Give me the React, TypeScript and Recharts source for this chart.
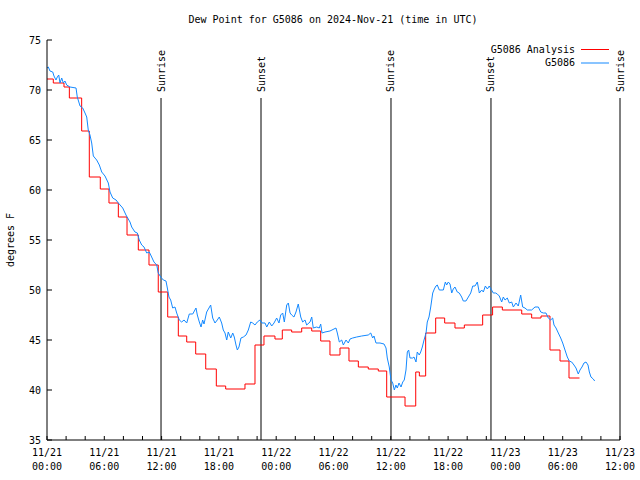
import { LineChart, Line, XAxis, YAxis, ReferenceLine, Legend } from "recharts";

const FONT = "'DejaVu Sans Mono', 'Liberation Mono', monospace";

// hours since 11/21 00:00 UTC
const minorHours = [0, 2, 4, 6, 8, 10, 12, 14, 16, 18, 20, 22, 24, 26, 28, 30, 32, 34, 36, 38, 40, 42, 44, 46, 48, 50, 52, 54, 56, 58, 60];
const majorHours = [0, 6, 12, 18, 24, 30, 36, 42, 48, 54, 60];
const dayLabels = ["11/21", "11/21", "11/21", "11/21", "11/22", "11/22", "11/22", "11/22", "11/23", "11/23", "11/23"];
const timeLabels = ["00:00", "06:00", "12:00", "18:00", "00:00", "06:00", "12:00", "18:00", "00:00", "06:00", "12:00"];
const valueTicks = [35, 40, 45, 50, 55, 60, 65, 70, 75];

const sunHours = [11.94, 22.41, 36.02, 46.49, 60];
const sunNames = ["Sunrise", "Sunset", "Sunrise", "Sunset", "Sunrise"];

// G5086 Analysis (hourly steps)
const analysisHours = [
  0, 0.66, 1.78, 2.34, 3.63, 4.43, 5.58, 6.49, 7.47, 8.38,
  9.56, 10.68, 11.65, 12.64, 13.75, 14.63, 15.57, 16.62, 17.73, 18.71,
  20.73, 21.78, 22.72, 23.87, 24.64, 25.62, 26.67, 27.72, 28.66, 29.63,
  30.68, 31.62, 32.6, 33.64, 34.69, 35.57, 37.49, 38.61, 38.99, 39.65,
  40.7, 41.64, 42.72, 43.7, 45.62, 46.66, 47.68, 49.71, 50.75, 51.73,
  52.67, 53.72, 54.66, 55.76,
];
const analysisValues = [
  71.1, 70.7, 70.3, 69.2, 65.9, 61.3, 60.1, 58.7, 57.3, 55.5,
  54.0, 52.5, 49.8, 47.3, 45.4, 44.8, 43.6, 42.1, 40.4, 40.1,
  40.6, 44.5, 45.4, 45.1, 46.0, 45.8, 46.2, 45.9, 44.9, 43.5,
  44.2, 42.9, 42.3, 42.1, 41.9, 39.3, 38.4, 41.8, 41.4, 45.7,
  47.2, 46.7, 46.2, 46.5, 47.5, 48.3, 48.0, 47.6, 47.2, 47.4,
  44.0, 42.9, 41.2, 41.2,
];

// G5086 station observations
const stationHours = [
  0, 0.14, 0.31, 0.6, 0.73, 0.94, 1.08, 1.23, 1.36, 1.54,
  1.71, 1.88, 2.06, 2.41, 3.04, 3.17, 3.46, 3.74, 3.98, 4.16,
  4.32, 4.5, 4.68, 4.85, 5.2, 5.48, 5.73, 6.07, 6.42, 6.6,
  6.88, 7.23, 7.47, 7.93, 8.27, 8.69, 8.87, 9.21, 9.46, 9.66,
  9.92, 10.16, 10.44, 10.71, 10.96, 11.2, 11.49, 11.65, 11.91, 12.18,
  12.46, 12.6, 12.77, 12.95, 13.16, 13.4, 13.58, 13.85, 14.1, 14.35,
  14.63, 14.9, 15.26, 15.6, 15.74, 15.95, 16.13, 16.3, 16.44, 16.72,
  16.96, 17.14, 17.35, 17.59, 17.83, 18.04, 18.29, 18.46, 18.64, 18.82,
  18.98, 19.24, 19.45, 19.61, 19.79, 19.93, 20.1, 20.31, 20.56, 20.84,
  21.08, 21.33, 21.54, 21.78, 22.02, 22.3, 22.51, 22.83, 23.01, 23.28,
  23.53, 23.77, 24.05, 24.29, 24.47, 24.68, 24.85, 25.1, 25.27, 25.45,
  25.62, 25.86, 26.07, 26.31, 26.57, 26.77, 27.02, 27.19, 27.54, 27.72,
  27.88, 28.24, 28.51, 28.66, 28.8, 29.11, 29.63, 30.26, 30.4, 30.61,
  30.86, 31.03, 31.31, 31.55, 31.73, 32.01, 32.43, 32.95, 33.64, 33.9,
  34.1, 34.24, 34.45, 34.87, 35.29, 35.5, 35.63, 35.84, 36.02, 36.2,
  36.37, 36.54, 36.68, 36.86, 37.07, 37.25, 37.41, 37.59, 37.73, 37.87,
  38.01, 38.29, 38.43, 38.64, 38.77, 38.98, 39.13, 39.3, 39.48, 39.69,
  39.82, 40.0, 40.18, 40.39, 40.56, 40.73, 40.87, 41.08, 41.5, 41.71,
  41.85, 42.02, 42.2, 42.38, 42.54, 42.72, 42.96, 43.17, 43.42, 43.59,
  43.87, 44.12, 44.37, 44.58, 44.82, 45.06, 45.27, 45.52, 45.69, 45.9,
  46.11, 46.31, 46.49, 46.73, 46.98, 47.15, 47.36, 47.61, 47.78, 47.96,
  48.2, 48.41, 48.66, 48.83, 49.11, 49.35, 49.6, 49.81, 50.05, 50.29,
  50.75, 51.1, 51.45, 51.7, 51.97, 52.25, 52.49, 52.74, 52.95, 53.09,
  53.3, 53.54, 53.79, 54.0, 54.24, 54.48, 54.69, 54.94, 55.18, 55.39,
  55.63, 55.81, 56.02, 56.23, 56.44, 56.65, 56.79, 56.96, 57.2, 57.35,
];
const stationValues = [
  72.2, 72.3, 71.9, 71.8, 71.4, 71.0, 71.3, 71.5, 70.7, 71.2,
  70.7, 70.9, 70.5, 70.3, 70.2, 69.3, 68.4, 68.2, 67.7, 67.3,
  66.0, 65.5, 64.7, 63.4, 63.0, 62.5, 61.8, 61.4, 60.7, 59.8,
  59.2, 59.0, 58.7, 58.2, 57.5, 56.8, 56.3, 55.8, 55.7, 55.0,
  54.5, 54.3, 53.7, 53.8, 53.3, 52.8, 52.5, 51.7, 51.3, 51.0,
  50.9, 50.2, 49.3, 49.0, 48.2, 48.3, 47.7, 47.0, 46.8, 47.0,
  46.7, 47.6, 47.6, 48.2, 47.5, 46.8, 46.3, 47.0, 46.6, 47.8,
  48.2, 48.5, 47.2, 46.7, 47.0, 47.3, 46.7, 46.0, 45.7, 45.0,
  45.8, 45.2, 45.7, 45.3, 44.5, 44.0, 44.3, 45.2, 45.3, 45.5,
  46.0, 46.8, 46.7, 46.5, 46.8, 47.0, 46.7, 46.7, 46.3, 46.8,
  46.4, 46.7, 47.2, 46.7, 47.5, 47.7, 46.8, 48.5, 48.7, 47.7,
  47.5, 47.3, 47.8, 48.6, 47.3, 46.8, 47.0, 46.5, 46.8, 47.3,
  46.2, 46.3, 46.2, 46.6, 45.7, 45.8, 45.9, 46.2, 45.7, 44.8,
  45.0, 44.5, 45.0, 44.7, 45.1, 45.2, 45.3, 45.4, 45.5, 45.7,
  45.2, 45.4, 44.7, 44.7, 44.6, 44.2, 43.2, 42.3, 41.0, 40.7,
  40.0, 40.5, 40.2, 40.7, 40.3, 40.8, 41.0, 42.0, 43.8, 44.0,
  43.2, 43.2, 43.3, 42.8, 43.8, 43.5, 43.8, 44.3, 45.0, 45.7,
  46.8, 47.3, 48.3, 49.7, 50.1, 50.4, 50.5, 50.0, 50.0, 50.8,
  50.5, 50.8, 50.6, 49.7, 50.1, 50.3, 49.8, 49.7, 49.3, 48.9,
  48.9, 49.3, 49.7, 50.4, 50.4, 50.8, 49.7, 50.0, 49.8, 50.4,
  50.1, 50.4, 50.1, 49.7, 49.7, 49.6, 49.4, 48.8, 49.3, 49.0,
  49.2, 48.7, 48.8, 48.3, 48.7, 48.4, 49.5, 48.3, 48.2, 48.0,
  48.0, 48.3, 48.3, 47.8, 47.7, 47.7, 47.2, 47.0, 47.2, 46.5,
  46.2, 45.7, 45.2, 44.7, 44.0, 43.3, 42.9, 42.8, 42.5, 42.2,
  41.6, 42.0, 42.3, 42.7, 42.8, 42.5, 41.8, 41.3, 41.1, 40.9,
];

const analysisData = analysisHours.map((h, i) => ({ h, v: analysisValues[i] }));
const stationData = stationHours.map((h, i) => ({ h, v: stationValues[i] }));

const RED = "#ff0000";
const BLUE = "#1489ff";

const BottomTick = ({ x, y, payload }: any) => {
  const i = majorHours.indexOf(payload.value);
  return (
    <g>
      <line x1={x} x2={x} y1={y} y2={y - 4} stroke="#000" />
      {i >= 0 && (
        <text x={x} y={y + 16} textAnchor="middle" fontSize={10} fontFamily={FONT} fill="#000">
          <tspan x={x}>{dayLabels[i]}</tspan>
          <tspan x={x} dy={14}>{timeLabels[i]}</tspan>
        </text>
      )}
    </g>
  );
};

const TopTick = ({ x, y }: any) => <line x1={x} x2={x} y1={y} y2={y + 4} stroke="#000" />;

const LeftTick = ({ x, y, payload }: any) => (
  <g>
    <line x1={x} x2={x + 5} y1={y} y2={y} stroke="#000" />
    <text x={x - 6} y={y + 3.5} textAnchor="end" fontSize={10} fontFamily={FONT} fill="#000">
      {payload.value}
    </text>
  </g>
);

const RightTick = ({ x, y }: any) => <line x1={x} x2={x - 5} y1={y} y2={y} stroke="#000" />;

const SunLabel = ({ viewBox, text }: any) => {
  const cx = viewBox.x;
  const cy = viewBox.y - 6;
  return (
    <text
      x={cx}
      y={cy}
      transform={`rotate(-90 ${cx} ${cy})`}
      textAnchor="start"
      dominantBaseline="central"
      fontSize={10}
      fontFamily={FONT}
      fill="#000"
    >
      {text}
    </text>
  );
};

const LegendBox = () => (
  <svg width={180} height={30} style={{ display: "block" }}>
    <text x={135} y={10.5} textAnchor="end" fontSize={10} fontFamily={FONT} fill="#000">G5086 Analysis</text>
    <rect x={141} y={7} width={28} height={1} fill={RED} />
    <text x={135} y={24} textAnchor="end" fontSize={10} fontFamily={FONT} fill="#000">G5086</text>
    <rect x={141} y={20.5} width={28} height={1} fill={BLUE} />
  </svg>
);

export default function App() {
  return (
    <div style={{ position: "absolute", left: 0, top: 0, width: 640, height: 480, background: "#fff" }}>
      <svg width={640} height={480} style={{ position: "absolute", left: 0, top: 0 }}>
        <text x={333} y={23} textAnchor="middle" fontSize={10} fontFamily={FONT} fill="#000">
          Dew Point for G5086 on 2024-Nov-21 (time in UTC)
        </text>
        <text
          x={10}
          y={240}
          transform="rotate(-90 10 240)"
          textAnchor="middle"
          dominantBaseline="central"
          fontSize={10}
          fontFamily={FONT}
          fill="#000"
        >
          degrees F
        </text>
      </svg>
      <div style={{ position: "absolute", left: 0, top: 0 }}>
        <LineChart width={640} height={480} margin={{ top: 40, right: 20, left: 0, bottom: 0 }}>
          <XAxis
            xAxisId="b"
            type="number"
            dataKey="h"
            domain={[0, 60]}
            ticks={minorHours}
            interval={0}
            height={40}
            tickSize={0}
            tickMargin={0}
            tickLine={false}
            axisLine={{ stroke: "#000" }}
            tick={<BottomTick />}
            allowDataOverflow
          />
          <XAxis
            xAxisId="t"
            orientation="top"
            type="number"
            dataKey="h"
            domain={[0, 60]}
            ticks={minorHours}
            interval={0}
            height={0}
            tickSize={0}
            tickMargin={0}
            tickLine={false}
            axisLine={{ stroke: "#000" }}
            tick={<TopTick />}
            allowDataOverflow
          />
          <YAxis
            yAxisId="l"
            type="number"
            domain={[35, 75]}
            ticks={valueTicks}
            interval={0}
            width={47}
            tickSize={0}
            tickMargin={0}
            tickLine={false}
            axisLine={{ stroke: "#000" }}
            tick={<LeftTick />}
            allowDataOverflow
          />
          <YAxis
            yAxisId="r"
            orientation="right"
            type="number"
            domain={[35, 75]}
            ticks={valueTicks}
            interval={0}
            width={0}
            tickSize={0}
            tickMargin={0}
            tickLine={false}
            axisLine={{ stroke: "#000" }}
            tick={<RightTick />}
            allowDataOverflow
          />
          {sunHours.map((t, i) => (
            <ReferenceLine
              key={i}
              xAxisId="b"
              yAxisId="l"
              segment={[{ x: t, y: 35 }, { x: t, y: 69.2 }]}
              stroke="#000"
              strokeWidth={1}
              ifOverflow="visible"
              label={<SunLabel text={sunNames[i]} />}
            />
          ))}
          <Line
            xAxisId="b"
            yAxisId="l"
            data={analysisData}
            dataKey="v"
            type="stepAfter"
            stroke={RED}
            strokeWidth={1}
            dot={false}
            isAnimationActive={false}
          />
          <Line
            xAxisId="b"
            yAxisId="l"
            data={stationData}
            dataKey="v"
            type="linear"
            stroke={BLUE}
            strokeWidth={1}
            dot={false}
            isAnimationActive={false}
          />
          <Legend
            layout="horizontal"
            verticalAlign="middle"
            align="center"
            wrapperStyle={{ left: 440, top: 42, width: 180, height: 30 }}
            content={<LegendBox />}
          />
        </LineChart>
      </div>
    </div>
  );
}
